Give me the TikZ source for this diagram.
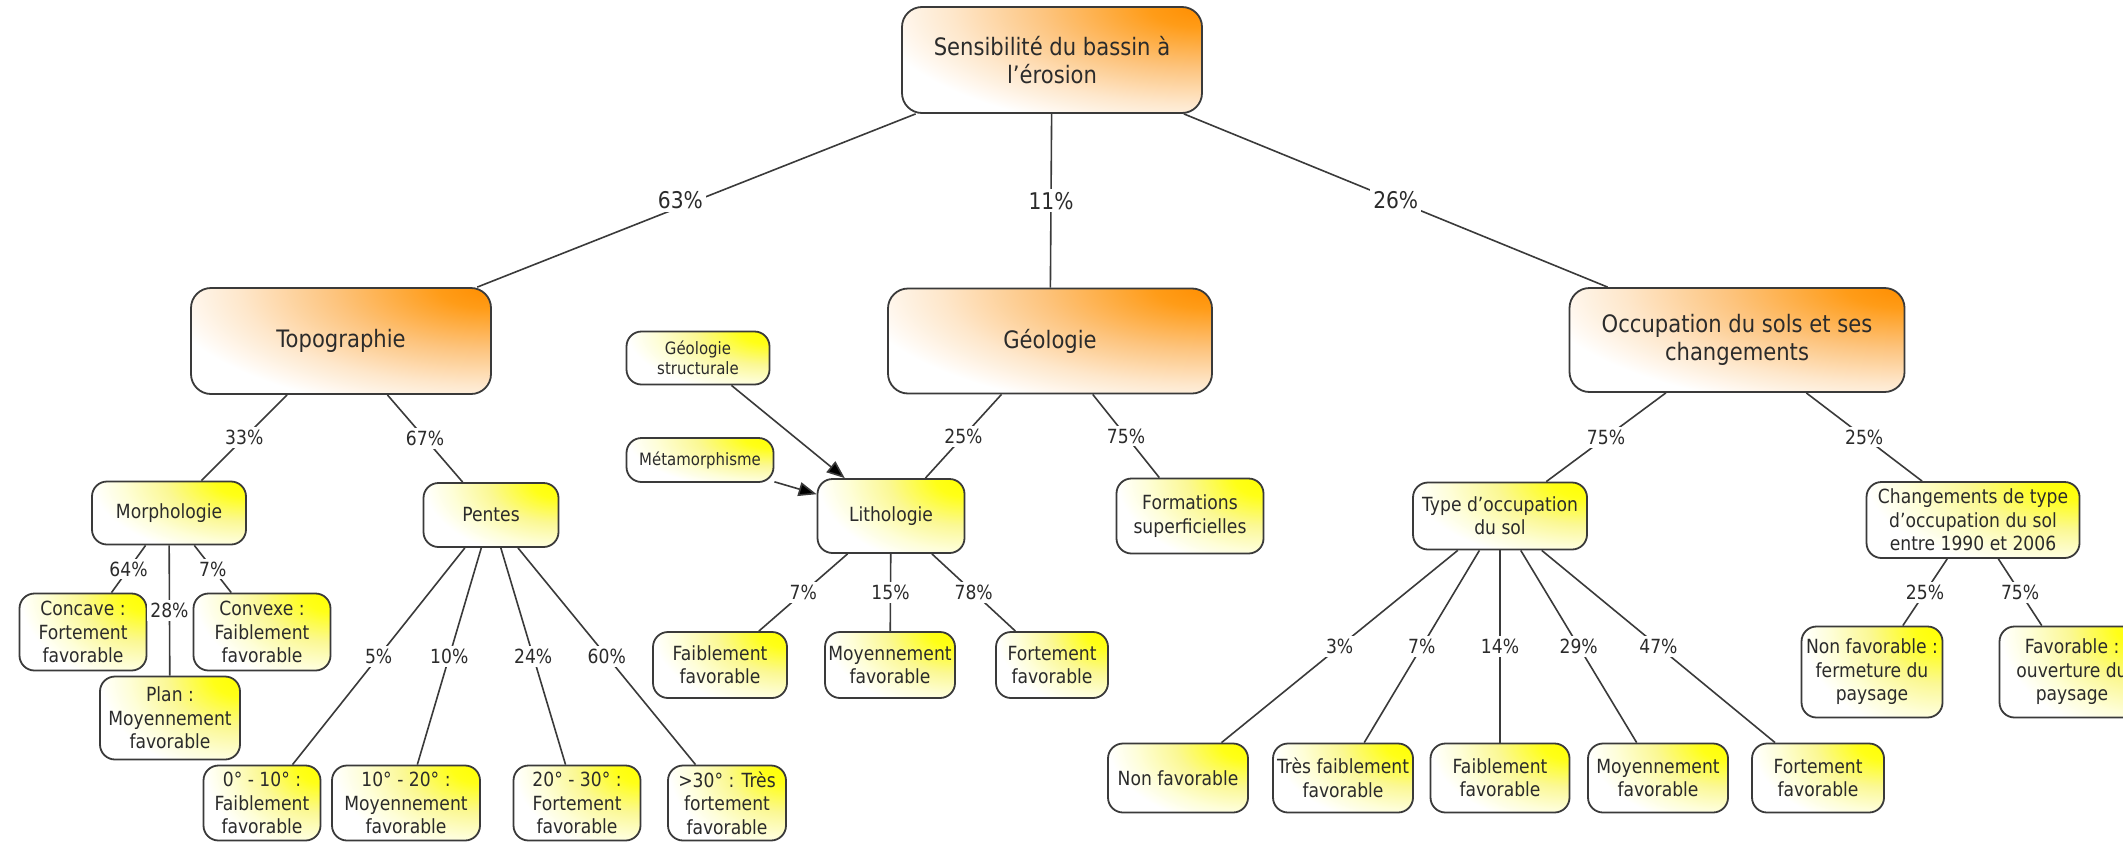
\documentclass[tikz,border=0pt]{standalone}
\usepackage{fontspec}
\setmainfont{DejaVu Sans}[FakeStretch=0.88]
\usetikzlibrary{arrows.meta,calc}

\definecolor{ink}{HTML}{2B2B2B}
\definecolor{edgegray}{HTML}{3A3A3A}
\definecolor{orA}{HTML}{FF8E00}
\definecolor{orB}{HTML}{FF9C18}
\definecolor{orC}{HTML}{FDC47E}
\definecolor{orD}{HTML}{FEE7CB}
\definecolor{yeA}{HTML}{FFFF00}
\definecolor{yeB}{HTML}{FFFF18}
\definecolor{yeC}{HTML}{FBF894}
\definecolor{yeD}{HTML}{FEFED8}

% glow in the upper right corner of the boxes, fading to white
\pgfdeclareradialshading{orglow}{\pgfpoint{0bp}{0bp}}{color(0bp)=(orA); color(4bp)=(orB); color(12bp)=(orC); color(19bp)=(orD); color(25bp)=(white); color(50bp)=(white)}
\pgfdeclareradialshading{yeglow}{\pgfpoint{0bp}{0bp}}{color(0bp)=(yeA); color(5bp)=(yeB); color(13bp)=(yeC); color(20bp)=(yeD); color(25bp)=(white); color(50bp)=(white)}

\tikzset{
  mainbox/.style={draw=edgegray, line width=0.9pt, rounded corners=10pt, fill=white,
    inner sep=0pt, align=center, text=ink, font=\fontsize{12}{14}\selectfont,
    path picture={\shade[shading=orglow]
      let \p1=($(path picture bounding box.north east)-(path picture bounding box.south west)$) in
      (path picture bounding box.north east) ellipse [x radius=1.1*\x1, y radius=1.2*\y1];}},
  subbox/.style={draw=edgegray, line width=0.9pt, rounded corners=7.5pt, fill=white,
    inner sep=0pt, align=center, text=ink, font=\fontsize{9.75}{11.7}\selectfont,
    path picture={\shade[shading=yeglow]
      let \p1=($(path picture bounding box.north east)-(path picture bounding box.south west)$) in
      (path picture bounding box.north east) ellipse [x radius=1.0*\x1, y radius=1.2*\y1];}},
  smallbox/.style={subbox, font=\fontsize{8.5}{10}\selectfont},
  conn/.style={draw=edgegray, line width=0.8pt},
  feed/.style={conn, -{Triangle[length=9pt,width=7pt,fill=black]}},
  pct/.style={fill=white, inner sep=1.5pt, text=ink, font=\fontsize{9.75}{11}\selectfont},
  pcttop/.style={pct, font=\fontsize{11.5}{13}\selectfont},
}

\begin{document}
\begin{tikzpicture}[x=0.5pt, y=-0.5pt]
\fill[white] (0,0) rectangle (2123,846);
\useasboundingbox (0,0) rectangle (2123,846);
\clip (0,0) rectangle (2123,846);

% main levels
\node[mainbox, minimum width=150pt, minimum height=53pt] (root) at (1052,60) {Sensibilité du bassin à\\l’érosion};
\node[mainbox, minimum width=150pt, minimum height=53pt] (topo) at (341,341) {Topographie};
\node[mainbox, minimum width=162pt, minimum height=52.5pt] (geol) at (1050,341) {Géologie};
\node[mainbox, minimum width=167.5pt, minimum height=52pt] (occ) at (1737,340) {Occupation du sols et ses\\changements};

% topography
\node[subbox, minimum width=77pt, minimum height=31.5pt] (morph) at (169,513) {Morphologie};
\node[subbox, minimum width=67.5pt, minimum height=32pt] (pentes) at (491,515) {Pentes};
\node[subbox, minimum width=63.5pt, minimum height=38.5pt] (concave) at (83,632) {Concave :\\Fortement\\favorable};
\node[subbox, minimum width=68.5pt, minimum height=38.5pt] (convexe) at (262,632) {Convexe :\\Faiblement\\favorable};
\node[subbox, minimum width=70pt, minimum height=41.5pt] (plan) at (170,718) {Plan :\\Moyennement\\favorable};
\node[subbox, minimum width=58.5pt, minimum height=37.5pt] (pa) at (262,803) {0° - 10° :\\Faiblement\\favorable};
\node[subbox, minimum width=74pt, minimum height=37.5pt] (pb) at (406,803) {10° - 20° :\\Moyennement\\favorable};
\node[subbox, minimum width=63.5pt, minimum height=37.5pt] (pc) at (577,803) {20° - 30° :\\Fortement\\favorable};
\node[subbox, minimum width=59pt, minimum height=37.5pt] (pd) at (727,803) {>30° : Très\\fortement\\favorable};

% geology
\node[smallbox, minimum width=71.5pt, minimum height=26.5pt] (gstruct) at (698,358) {Géologie\\structurale};
\node[smallbox, minimum width=73.5pt, minimum height=22pt] (metam) at (700,460) {Métamorphisme};
\node[subbox, minimum width=73.5pt, minimum height=37pt] (litho) at (891,516) {Lithologie};
\node[subbox, minimum width=73.5pt, minimum height=37.5pt] (formsup) at (1190,516) {Formations\\superficielles};
\node[subbox, minimum width=67pt, minimum height=33pt] (la) at (720,665) {Faiblement\\favorable};
\node[subbox, minimum width=65pt, minimum height=33pt] (lb) at (890,665) {Moyennement\\favorable};
\node[subbox, minimum width=56pt, minimum height=33pt] (lc) at (1052,665) {Fortement\\favorable};

% land cover
\node[subbox, minimum width=87pt, minimum height=33.5pt] (typ) at (1500,516) {Type d'occupation\\du sol};
\node[subbox, minimum width=106.5pt, minimum height=38pt] (chg) at (1973,520) {Changements de type\\d’occupation du sol\\entre 1990 et 2006};
\node[subbox, minimum width=70.5pt, minimum height=45.5pt] (nf) at (1872,672) {Non favorable :\\fermeture du\\paysage};
\node[subbox, minimum width=72.5pt, minimum height=45.5pt] (fv) at (2072,672) {Favorable :\\ouverture du\\paysage};
\node[subbox, minimum width=70pt, minimum height=34.5pt] (oa) at (1178,778) {Non favorable};
\node[subbox, minimum width=70pt, minimum height=34.5pt] (ob) at (1343,778) {Très faiblement\\favorable};
\node[subbox, minimum width=69.5pt, minimum height=34.5pt] (oc) at (1500,778) {Faiblement\\favorable};
\node[subbox, minimum width=70pt, minimum height=34.5pt] (od) at (1658,778) {Moyennement\\favorable};
\node[subbox, minimum width=66pt, minimum height=34.5pt] (oe) at (1818,778) {Fortement\\favorable};

% weighted links
\draw[conn] (root) -- node[pcttop, xshift=-8pt]{63\%} (topo);
\draw[conn] (root) -- node[pcttop]{11\%} (geol);
\draw[conn] (root) -- node[pcttop]{26\%} (occ);

\draw[conn] (topo) -- node[pct]{33\%} (morph);
\draw[conn] (topo) -- node[pct]{67\%} (pentes);
\draw[conn] (morph) -- node[pct]{64\%} (concave);
\draw[conn] (morph) -- node[pct]{7\%} (convexe);
\draw[conn] (morph) -- node[pct]{28\%} (plan);
\draw[conn] (pentes) -- node[pct]{5\%} (pa);
\draw[conn] (pentes) -- node[pct]{10\%} (pb);
\draw[conn] (pentes) -- node[pct]{24\%} (pc);
\draw[conn] (pentes) -- node[pct]{60\%} (pd);

\draw[conn] (geol) -- node[pct]{25\%} (litho);
\draw[conn] (geol) -- node[pct]{75\%} (formsup);
\draw[conn] (litho) -- node[pct]{7\%} (la);
\draw[conn] (litho) -- node[pct]{15\%} (lb);
\draw[conn] (litho) -- node[pct]{78\%} (lc);
\draw[feed] (gstruct) -- (litho);
\draw[feed] (metam) -- (litho);

\draw[conn] (occ) -- node[pct]{75\%} (typ);
\draw[conn] (occ) -- node[pct]{25\%} (chg);
\draw[conn] (typ) -- node[pct]{3\%} (oa);
\draw[conn] (typ) -- node[pct]{7\%} (ob);
\draw[conn] (typ) -- node[pct]{14\%} (oc);
\draw[conn] (typ) -- node[pct]{29\%} (od);
\draw[conn] (typ) -- node[pct]{47\%} (oe);
\draw[conn] (chg) -- node[pct]{25\%} (nf);
\draw[conn] (chg) -- node[pct]{75\%} (fv);
\end{tikzpicture}
\end{document}
